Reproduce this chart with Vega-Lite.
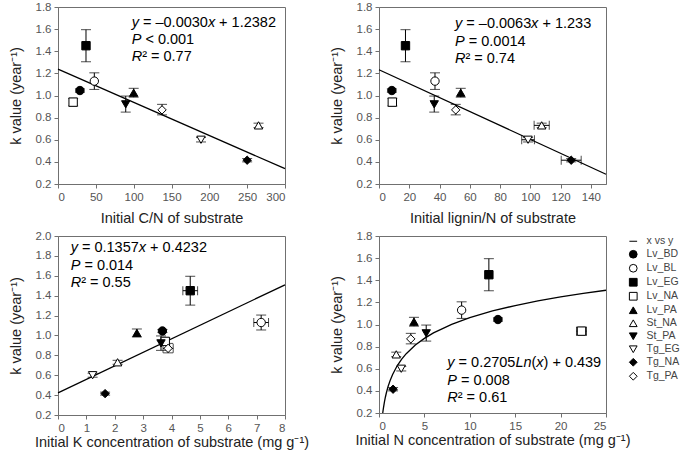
{
  "$schema": "https://vega.github.io/schema/vega-lite/v6.json",
  "background": "white",
  "padding": {"left": 7, "top": 0, "right": 0, "bottom": 0},
  "columns": 2,
  "spacing": {"row": 3, "column": 18},
  "resolve": {"scale": {"shape": "independent", "color": "independent"}, "legend": {"shape": "independent", "color": "independent"}},
  "datasets": {
    "pts": [
      {"series": "Lv_BD", "k": 1.045, "klo": 1.03, "khi": 1.06, "cn": 29, "ln": 8.5, "K": 3.68, "N": 13.1},
      {"series": "Lv_BL", "k": 1.13, "klo": 1.055, "khi": 1.205, "cn": 48, "ln": 37, "K": 7.16, "Klo": 6.9, "Khi": 7.42, "N": 9.1},
      {"series": "Lv_EG", "k": 1.45, "klo": 1.305, "khi": 1.595, "cn": 37, "ln": 17.5, "K": 4.66, "Klo": 4.4, "Khi": 4.92, "N": 12.1},
      {"series": "Lv_NA", "k": 0.94, "klo": 0.905, "khi": 0.975, "cn": 20, "ln": 8.8, "K": 3.78, "N": 22.3, "Nlo": 21.75, "Nhi": 22.85},
      {"series": "Lv_PA", "k": 1.025, "klo": 0.985, "khi": 1.065, "cn": 100, "ln": 54, "K": 2.78, "N": 3.85},
      {"series": "St_NA", "k": 0.73, "klo": 0.71, "khi": 0.75, "cn": 265, "ln": 107.5, "lnlo": 102.5, "lnhi": 112.5, "K": 2.1, "N": 1.9},
      {"series": "St_PA", "k": 0.92, "klo": 0.85, "khi": 0.995, "cn": 89.5, "ln": 36.5, "K": 3.63, "N": 5.2},
      {"series": "Tg_EG", "k": 0.6, "klo": 0.58, "khi": 0.62, "cn": 189, "ln": 98.5, "lnlo": 94.3, "lnhi": 102.7, "K": 1.22, "N": 2.45},
      {"series": "Tg_NA", "k": 0.415, "klo": 0.4, "khi": 0.43, "cn": 250, "ln": 127, "lnlo": 120.4, "lnhi": 133.6, "K": 1.66, "N": 1.55},
      {"series": "Tg_PA", "k": 0.87, "klo": 0.825, "khi": 0.92, "cn": 137.5, "ln": 50.7, "K": 3.88, "Klo": 3.7, "Khi": 4.06, "N": 3.5}
    ],
    "fit1": [{"cn": 0, "k": 1.2382}, {"cn": 300, "k": 0.3382}],
    "fit2": [{"ln": 0, "k": 1.233}, {"ln": 150, "k": 0.288}],
    "fit3": [{"K": 0, "k": 0.4232}, {"K": 8, "k": 1.5088}],
    "fit4": [
      {"N": 0.413, "k": 0.2}, {"N": 0.45, "k": 0.223}, {"N": 0.5, "k": 0.2515}, {"N": 0.6, "k": 0.3008},
      {"N": 0.7, "k": 0.3425}, {"N": 0.8, "k": 0.3786}, {"N": 1, "k": 0.439}, {"N": 1.25, "k": 0.4994},
      {"N": 1.5, "k": 0.5487}, {"N": 2, "k": 0.6265}, {"N": 2.5, "k": 0.6869}, {"N": 3, "k": 0.7362},
      {"N": 4, "k": 0.814}, {"N": 5, "k": 0.8743}, {"N": 6, "k": 0.9237}, {"N": 8, "k": 1.0015},
      {"N": 10, "k": 1.0619}, {"N": 12.5, "k": 1.1222}, {"N": 15, "k": 1.1715}, {"N": 17.5, "k": 1.2132},
      {"N": 20, "k": 1.2493}, {"N": 22.5, "k": 1.2812}, {"N": 25, "k": 1.3097}
    ],
    "ann1": [
      {"cn": 97.4, "k": 1.655, "t": "y", "it": true},
      {"cn": 112.3, "k": 1.655, "t": "= –0.0030", "it": false},
      {"cn": 198.1, "k": 1.655, "t": "x", "it": true},
      {"cn": 212.9, "k": 1.655, "t": "+ 1.2382", "it": false},
      {"cn": 97.4, "k": 1.5, "t": "P", "it": true},
      {"cn": 115.5, "k": 1.5, "t": "< 0.001", "it": false},
      {"cn": 97.4, "k": 1.345, "t": "R", "it": true},
      {"cn": 111.2, "k": 1.345, "t": "² =  0.77", "it": false}
    ],
    "ann2": [
      {"ln": 50.2, "k": 1.646, "t": "y", "it": true},
      {"ln": 57.7, "k": 1.646, "t": "= –0.0063", "it": false},
      {"ln": 100.5, "k": 1.646, "t": "x", "it": true},
      {"ln": 108.0, "k": 1.646, "t": "+ 1.233", "it": false},
      {"ln": 50.2, "k": 1.484, "t": "P", "it": true},
      {"ln": 59.3, "k": 1.484, "t": "= 0.0014", "it": false},
      {"ln": 50.2, "k": 1.327, "t": "R", "it": true},
      {"ln": 57.1, "k": 1.327, "t": "² =  0.74", "it": false}
    ],
    "ann3": [
      {"K": 0.447, "k": 1.876, "t": "y", "it": true},
      {"K": 0.844, "k": 1.876, "t": "= 0.1357", "it": false},
      {"K": 2.847, "k": 1.876, "t": "x", "it": true},
      {"K": 3.246, "k": 1.876, "t": "+ 0.4232", "it": false},
      {"K": 0.447, "k": 1.695, "t": "P", "it": true},
      {"K": 0.930, "k": 1.695, "t": "= 0.014", "it": false},
      {"K": 0.447, "k": 1.524, "t": "R", "it": true},
      {"K": 0.816, "k": 1.524, "t": "² =  0.55", "it": false}
    ],
    "ann4": [
      {"N": 7.52, "k": 0.652, "t": "y", "it": true},
      {"N": 8.764, "k": 0.652, "t": "= 0.2705", "it": false},
      {"N": 15.02, "k": 0.652, "t": "Ln", "it": true},
      {"N": 16.79, "k": 0.652, "t": "(", "it": false},
      {"N": 17.33, "k": 0.652, "t": "x", "it": true},
      {"N": 18.12, "k": 0.652, "t": ") + 0.439", "it": false},
      {"N": 7.52, "k": 0.492, "t": "P", "it": true},
      {"N": 9.029, "k": 0.492, "t": "= 0.008", "it": false},
      {"N": 7.52, "k": 0.335, "t": "R", "it": true},
      {"N": 8.67, "k": 0.335, "t": "² =  0.61", "it": false}
    ]
  },
  "concat": [
    {
      "width": 227, "height": 177,
      "encoding": {
        "x": {"field": "cn", "type": "quantitative", "title": "Initial C/N of substrate", "scale": {"domain": [0, 300], "nice": false, "zero": false}, "axis": {"values": [0, 50, 100, 150, 200, 250, 300], "titlePadding": 9}},
        "y": {"field": "k", "type": "quantitative", "title": "k value (year⁻¹)", "scale": {"domain": [0.2, 1.8], "nice": false, "zero": false}, "axis": {"values": [0.2, 0.4, 0.6, 0.8, 1.0, 1.2, 1.4, 1.6, 1.8], "format": ".1f"}}
      },
      "layer": [
        {"data": {"name": "fit1"}, "mark": {"type": "line", "color": "black", "strokeWidth": 1.3}},
        {"data": {"name": "pts"}, "mark": {"type": "rule", "color": "black", "strokeWidth": 1}, "encoding": {"y": {"field": "klo", "type": "quantitative", "title": "k value (year⁻¹)", "scale": {"domain": [0.2, 1.8], "nice": false, "zero": false}}, "y2": {"field": "khi"}}},
        {"data": {"name": "pts"}, "mark": {"type": "tick", "orient": "horizontal", "color": "black", "size": 10, "thickness": 1}, "encoding": {"y": {"field": "klo", "type": "quantitative", "title": "k value (year⁻¹)", "scale": {"domain": [0.2, 1.8], "nice": false, "zero": false}}}},
        {"data": {"name": "pts"}, "mark": {"type": "tick", "orient": "horizontal", "color": "black", "size": 10, "thickness": 1}, "encoding": {"y": {"field": "khi", "type": "quantitative", "title": "k value (year⁻¹)", "scale": {"domain": [0.2, 1.8], "nice": false, "zero": false}}}},
        {"data": {"name": "pts"}, "mark": {"type": "point", "filled": true, "stroke": "black", "strokeWidth": 1, "size": 70, "opacity": 1},
         "encoding": {
           "shape": {"field": "series", "type": "nominal", "legend": null, "scale": {"domain": ["x vs y", "Lv_BD", "Lv_BL", "Lv_EG", "Lv_NA", "Lv_PA", "St_NA", "St_PA", "Tg_EG", "Tg_NA", "Tg_PA"], "range": ["stroke", "circle", "circle", "square", "square", "triangle-up", "triangle-up", "triangle-down", "triangle-down", "diamond", "diamond"]}},
           "color": {"field": "series", "type": "nominal", "legend": null, "scale": {"domain": ["x vs y", "Lv_BD", "Lv_BL", "Lv_EG", "Lv_NA", "Lv_PA", "St_NA", "St_PA", "Tg_EG", "Tg_NA", "Tg_PA"], "range": ["black", "black", "white", "black", "white", "black", "white", "black", "white", "black", "white"]}}
         }},
        {"data": {"name": "ann1"}, "transform": [{"filter": "!datum.it"}], "mark": {"type": "text", "align": "left", "baseline": "middle", "fontSize": 14.5, "color": "black"}, "encoding": {"text": {"field": "t", "type": "nominal"}}},
        {"data": {"name": "ann1"}, "transform": [{"filter": "datum.it"}], "mark": {"type": "text", "align": "left", "baseline": "middle", "fontSize": 14.5, "fontStyle": "italic", "color": "black"}, "encoding": {"text": {"field": "t", "type": "nominal"}}}
      ]
    },
    {
      "width": 227, "height": 177,
      "encoding": {
        "x": {"field": "ln", "type": "quantitative", "title": "Initial lignin/N of substrate", "scale": {"domain": [0, 150], "nice": false, "zero": false}, "axis": {"values": [0, 20, 40, 60, 80, 100, 120, 140], "titlePadding": 9}},
        "y": {"field": "k", "type": "quantitative", "title": "k value (year⁻¹)", "scale": {"domain": [0.2, 1.8], "nice": false, "zero": false}, "axis": {"values": [0.2, 0.4, 0.6, 0.8, 1.0, 1.2, 1.4, 1.6, 1.8], "format": ".1f"}}
      },
      "layer": [
        {"data": {"name": "fit2"}, "mark": {"type": "line", "color": "black", "strokeWidth": 1.3}},
        {"data": {"name": "pts"}, "mark": {"type": "rule", "color": "black", "strokeWidth": 1}, "encoding": {"y": {"field": "klo", "type": "quantitative", "title": "k value (year⁻¹)", "scale": {"domain": [0.2, 1.8], "nice": false, "zero": false}}, "y2": {"field": "khi"}}},
        {"data": {"name": "pts"}, "mark": {"type": "tick", "orient": "horizontal", "color": "black", "size": 10, "thickness": 1}, "encoding": {"y": {"field": "klo", "type": "quantitative", "title": "k value (year⁻¹)", "scale": {"domain": [0.2, 1.8], "nice": false, "zero": false}}}},
        {"data": {"name": "pts"}, "mark": {"type": "tick", "orient": "horizontal", "color": "black", "size": 10, "thickness": 1}, "encoding": {"y": {"field": "khi", "type": "quantitative", "title": "k value (year⁻¹)", "scale": {"domain": [0.2, 1.8], "nice": false, "zero": false}}}},
        {"data": {"name": "pts"}, "transform": [{"filter": "isValid(datum.lnlo)"}], "mark": {"type": "rule", "color": "black", "strokeWidth": 1}, "encoding": {"x": {"field": "lnlo", "type": "quantitative", "title": "Initial lignin/N of substrate", "scale": {"domain": [0, 150], "nice": false, "zero": false}}, "x2": {"field": "lnhi"}}},
        {"data": {"name": "pts"}, "transform": [{"filter": "isValid(datum.lnlo)"}], "mark": {"type": "tick", "orient": "vertical", "color": "black", "size": 9, "thickness": 1}, "encoding": {"x": {"field": "lnlo", "type": "quantitative", "title": "Initial lignin/N of substrate", "scale": {"domain": [0, 150], "nice": false, "zero": false}}}},
        {"data": {"name": "pts"}, "transform": [{"filter": "isValid(datum.lnlo)"}], "mark": {"type": "tick", "orient": "vertical", "color": "black", "size": 9, "thickness": 1}, "encoding": {"x": {"field": "lnhi", "type": "quantitative", "title": "Initial lignin/N of substrate", "scale": {"domain": [0, 150], "nice": false, "zero": false}}}},
        {"data": {"name": "pts"}, "mark": {"type": "point", "filled": true, "stroke": "black", "strokeWidth": 1, "size": 70, "opacity": 1},
         "encoding": {
           "shape": {"field": "series", "type": "nominal", "legend": null, "scale": {"domain": ["x vs y", "Lv_BD", "Lv_BL", "Lv_EG", "Lv_NA", "Lv_PA", "St_NA", "St_PA", "Tg_EG", "Tg_NA", "Tg_PA"], "range": ["stroke", "circle", "circle", "square", "square", "triangle-up", "triangle-up", "triangle-down", "triangle-down", "diamond", "diamond"]}},
           "color": {"field": "series", "type": "nominal", "legend": null, "scale": {"domain": ["x vs y", "Lv_BD", "Lv_BL", "Lv_EG", "Lv_NA", "Lv_PA", "St_NA", "St_PA", "Tg_EG", "Tg_NA", "Tg_PA"], "range": ["black", "black", "white", "black", "white", "black", "white", "black", "white", "black", "white"]}}
         }},
        {"data": {"name": "ann2"}, "transform": [{"filter": "!datum.it"}], "mark": {"type": "text", "align": "left", "baseline": "middle", "fontSize": 14.5, "color": "black"}, "encoding": {"text": {"field": "t", "type": "nominal"}}},
        {"data": {"name": "ann2"}, "transform": [{"filter": "datum.it"}], "mark": {"type": "text", "align": "left", "baseline": "middle", "fontSize": 14.5, "fontStyle": "italic", "color": "black"}, "encoding": {"text": {"field": "t", "type": "nominal"}}}
      ]
    },
    {
      "width": 227, "height": 179,
      "encoding": {
        "x": {"field": "K", "type": "quantitative", "title": "Initial K concentration of substrate (mg g⁻¹)", "scale": {"domain": [0, 8], "nice": false, "zero": false}, "axis": {"values": [0, 1, 2, 3, 4, 5, 6, 7, 8], "titlePadding": 2}},
        "y": {"field": "k", "type": "quantitative", "title": "k value (year⁻¹)", "scale": {"domain": [0.2, 2.0], "nice": false, "zero": false}, "axis": {"values": [0.2, 0.4, 0.6, 0.8, 1.0, 1.2, 1.4, 1.6, 1.8, 2.0], "format": ".1f"}}
      },
      "layer": [
        {"data": {"name": "fit3"}, "mark": {"type": "line", "color": "black", "strokeWidth": 1.3}},
        {"data": {"name": "pts"}, "mark": {"type": "rule", "color": "black", "strokeWidth": 1}, "encoding": {"y": {"field": "klo", "type": "quantitative", "title": "k value (year⁻¹)", "scale": {"domain": [0.2, 2.0], "nice": false, "zero": false}}, "y2": {"field": "khi"}}},
        {"data": {"name": "pts"}, "mark": {"type": "tick", "orient": "horizontal", "color": "black", "size": 10, "thickness": 1}, "encoding": {"y": {"field": "klo", "type": "quantitative", "title": "k value (year⁻¹)", "scale": {"domain": [0.2, 2.0], "nice": false, "zero": false}}}},
        {"data": {"name": "pts"}, "mark": {"type": "tick", "orient": "horizontal", "color": "black", "size": 10, "thickness": 1}, "encoding": {"y": {"field": "khi", "type": "quantitative", "title": "k value (year⁻¹)", "scale": {"domain": [0.2, 2.0], "nice": false, "zero": false}}}},
        {"data": {"name": "pts"}, "transform": [{"filter": "isValid(datum.Klo)"}], "mark": {"type": "rule", "color": "black", "strokeWidth": 1}, "encoding": {"x": {"field": "Klo", "type": "quantitative", "title": "Initial K concentration of substrate (mg g⁻¹)", "scale": {"domain": [0, 8], "nice": false, "zero": false}}, "x2": {"field": "Khi"}}},
        {"data": {"name": "pts"}, "transform": [{"filter": "isValid(datum.Klo)"}], "mark": {"type": "tick", "orient": "vertical", "color": "black", "size": 9, "thickness": 1}, "encoding": {"x": {"field": "Klo", "type": "quantitative", "title": "Initial K concentration of substrate (mg g⁻¹)", "scale": {"domain": [0, 8], "nice": false, "zero": false}}}},
        {"data": {"name": "pts"}, "transform": [{"filter": "isValid(datum.Klo)"}], "mark": {"type": "tick", "orient": "vertical", "color": "black", "size": 9, "thickness": 1}, "encoding": {"x": {"field": "Khi", "type": "quantitative", "title": "Initial K concentration of substrate (mg g⁻¹)", "scale": {"domain": [0, 8], "nice": false, "zero": false}}}},
        {"data": {"name": "pts"}, "mark": {"type": "point", "filled": true, "stroke": "black", "strokeWidth": 1, "size": 70, "opacity": 1},
         "encoding": {
           "shape": {"field": "series", "type": "nominal", "legend": null, "scale": {"domain": ["x vs y", "Lv_BD", "Lv_BL", "Lv_EG", "Lv_NA", "Lv_PA", "St_NA", "St_PA", "Tg_EG", "Tg_NA", "Tg_PA"], "range": ["stroke", "circle", "circle", "square", "square", "triangle-up", "triangle-up", "triangle-down", "triangle-down", "diamond", "diamond"]}},
           "color": {"field": "series", "type": "nominal", "legend": null, "scale": {"domain": ["x vs y", "Lv_BD", "Lv_BL", "Lv_EG", "Lv_NA", "Lv_PA", "St_NA", "St_PA", "Tg_EG", "Tg_NA", "Tg_PA"], "range": ["black", "black", "white", "black", "white", "black", "white", "black", "white", "black", "white"]}}
         }},
        {"data": {"name": "ann3"}, "transform": [{"filter": "!datum.it"}], "mark": {"type": "text", "align": "left", "baseline": "middle", "fontSize": 14.5, "color": "black"}, "encoding": {"text": {"field": "t", "type": "nominal"}}},
        {"data": {"name": "ann3"}, "transform": [{"filter": "datum.it"}], "mark": {"type": "text", "align": "left", "baseline": "middle", "fontSize": 14.5, "fontStyle": "italic", "color": "black"}, "encoding": {"text": {"field": "t", "type": "nominal"}}}
      ]
    },
    {
      "width": 227, "height": 177,
      "encoding": {
        "x": {"field": "N", "type": "quantitative", "title": "Initial N concentration of substrate (mg g⁻¹)", "scale": {"domain": [0, 25], "nice": false, "zero": false}, "axis": {"values": [0, 5, 10, 15, 20, 25], "titlePadding": 2}},
        "y": {"field": "k", "type": "quantitative", "title": "k value (year⁻¹)", "scale": {"domain": [0.2, 1.8], "nice": false, "zero": false}, "axis": {"values": [0.2, 0.4, 0.6, 0.8, 1.0, 1.2, 1.4, 1.6, 1.8], "format": ".1f"}}
      },
      "layer": [
        {"data": {"name": "fit4"}, "mark": {"type": "line", "color": "black", "strokeWidth": 1.3}},
        {"data": {"name": "pts"}, "mark": {"type": "rule", "color": "black", "strokeWidth": 1}, "encoding": {"y": {"field": "klo", "type": "quantitative", "title": "k value (year⁻¹)", "scale": {"domain": [0.2, 1.8], "nice": false, "zero": false}}, "y2": {"field": "khi"}}},
        {"data": {"name": "pts"}, "mark": {"type": "tick", "orient": "horizontal", "color": "black", "size": 10, "thickness": 1}, "encoding": {"y": {"field": "klo", "type": "quantitative", "title": "k value (year⁻¹)", "scale": {"domain": [0.2, 1.8], "nice": false, "zero": false}}}},
        {"data": {"name": "pts"}, "mark": {"type": "tick", "orient": "horizontal", "color": "black", "size": 10, "thickness": 1}, "encoding": {"y": {"field": "khi", "type": "quantitative", "title": "k value (year⁻¹)", "scale": {"domain": [0.2, 1.8], "nice": false, "zero": false}}}},
        {"data": {"name": "pts"}, "transform": [{"filter": "isValid(datum.Nlo)"}], "mark": {"type": "rule", "color": "black", "strokeWidth": 1}, "encoding": {"x": {"field": "Nlo", "type": "quantitative", "title": "Initial N concentration of substrate (mg g⁻¹)", "scale": {"domain": [0, 25], "nice": false, "zero": false}}, "x2": {"field": "Nhi"}}},
        {"data": {"name": "pts"}, "transform": [{"filter": "isValid(datum.Nlo)"}], "mark": {"type": "tick", "orient": "vertical", "color": "black", "size": 9, "thickness": 1}, "encoding": {"x": {"field": "Nlo", "type": "quantitative", "title": "Initial N concentration of substrate (mg g⁻¹)", "scale": {"domain": [0, 25], "nice": false, "zero": false}}}},
        {"data": {"name": "pts"}, "transform": [{"filter": "isValid(datum.Nlo)"}], "mark": {"type": "tick", "orient": "vertical", "color": "black", "size": 9, "thickness": 1}, "encoding": {"x": {"field": "Nhi", "type": "quantitative", "title": "Initial N concentration of substrate (mg g⁻¹)", "scale": {"domain": [0, 25], "nice": false, "zero": false}}}},
        {"data": {"name": "pts"}, "mark": {"type": "point", "filled": true, "stroke": "black", "strokeWidth": 1, "size": 70, "opacity": 1},
         "encoding": {
           "shape": {"field": "series", "type": "nominal", "legend": {"title": null, "orient": "right", "offset": 22, "labelFontSize": 10.5, "labelColor": "#444444", "symbolSize": 60, "symbolStrokeColor": "black", "symbolStrokeWidth": 1, "rowPadding": 1, "labelOffset": 8, "padding": 0}, "scale": {"domain": ["x vs y", "Lv_BD", "Lv_BL", "Lv_EG", "Lv_NA", "Lv_PA", "St_NA", "St_PA", "Tg_EG", "Tg_NA", "Tg_PA"], "range": ["stroke", "circle", "circle", "square", "square", "triangle-up", "triangle-up", "triangle-down", "triangle-down", "diamond", "diamond"]}},
           "color": {"field": "series", "type": "nominal", "legend": {"title": null, "orient": "right", "offset": 22, "labelFontSize": 10.5, "labelColor": "#444444", "symbolSize": 60, "symbolStrokeColor": "black", "symbolStrokeWidth": 1, "rowPadding": 1, "labelOffset": 8, "padding": 0}, "scale": {"domain": ["x vs y", "Lv_BD", "Lv_BL", "Lv_EG", "Lv_NA", "Lv_PA", "St_NA", "St_PA", "Tg_EG", "Tg_NA", "Tg_PA"], "range": ["black", "black", "white", "black", "white", "black", "white", "black", "white", "black", "white"]}}
         }},
        {"data": {"name": "ann4"}, "transform": [{"filter": "!datum.it"}], "mark": {"type": "text", "align": "left", "baseline": "middle", "fontSize": 14.5, "color": "black"}, "encoding": {"text": {"field": "t", "type": "nominal"}}},
        {"data": {"name": "ann4"}, "transform": [{"filter": "datum.it"}], "mark": {"type": "text", "align": "left", "baseline": "middle", "fontSize": 14.5, "fontStyle": "italic", "color": "black"}, "encoding": {"text": {"field": "t", "type": "nominal"}}}
      ]
    }
  ],
  "config": {
    "font": "Liberation Sans",
    "view": {"stroke": "#707070", "strokeWidth": 1},
    "axis": {"grid": false, "domainColor": "#707070", "tickColor": "#707070", "tickSize": 4, "labelColor": "#555555", "labelFontSize": 11.5, "labelFont": "Liberation Sans", "labelPadding": 3, "titleFont": "Liberation Sans", "titleFontSize": 14.5, "titleFontWeight": "normal", "titleColor": "#222222"},
    "axisY": {"titlePadding": 12},
    "legend": {"labelFont": "Liberation Sans"}
  }
}
